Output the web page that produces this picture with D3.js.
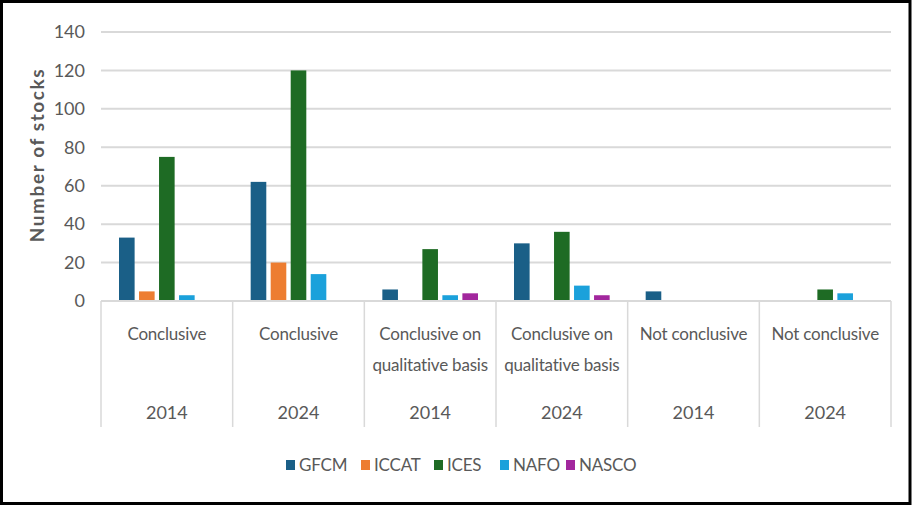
<!DOCTYPE html>
<html>
<head>
<meta charset="utf-8">
<script src="https://cdn.jsdelivr.net/npm/d3@7"></script>
<style>
  body { margin: 0; background: #fff; }
  svg text { font-family: Lato, "Noto Sans", sans-serif; fill: #595959; }
</style>
</head>
<body>
<div id="chart"></div>
<script>
const categories = ["Conclusive", "Conclusive", "Conclusive on qualitative basis", "Conclusive on qualitative basis", "Not conclusive", "Not conclusive"];
const years = ["2014", "2024", "2014", "2024", "2014", "2024"];
const seriesNames = ["GFCM", "ICCAT", "ICES", "NAFO", "NASCO"];
const gfcm  = [33, 62, 6, 30, 5, 0];
const iccat = [5, 20, 0, 0, 0, 0];
const ices  = [75, 120, 27, 36, 0, 6];
const nafo  = [3, 14, 3, 8, 0, 4];
const nasco = [0, 0, 4, 3, 0, 0];
const yTicks = [0, 20, 40, 60, 80, 100, 120, 140];
const seriesColors = ["#1a5f87", "#ed7d31", "#1e6b24", "#1ba1db", "#a2279d"];

const W = 913, H = 507;
const margin = {top: 32, left: 101, right: 22, bottom: 206};
const values = [gfcm, iccat, ices, nafo, nasco];

const data = categories.map((c, i) => ({
  key: i,
  label: c,
  year: years[i],
  vals: seriesNames.map((s, j) => ({series: s, value: values[j][i]}))
}));

const svg = d3.select("#chart").append("svg")
    .attr("width", W)
    .attr("height", H);

// frame
svg.append("rect")
    .attr("x", 1.5).attr("y", 1.5)
    .attr("width", W - 4.5).attr("height", H - 5)
    .style("fill", "#fff")
    .style("stroke", "#000")
    .style("stroke-width", 3);

const x0 = d3.scaleBand()
    .domain(d3.range(categories.length))
    .range([margin.left, W - margin.right])
    .paddingInner(0).paddingOuter(0);

const x1 = d3.scaleBand()
    .domain(seriesNames)
    .range([0, x0.bandwidth()])
    .paddingInner(0.22)
    .paddingOuter(0.9);

const y = d3.scaleLinear()
    .domain([0, 140])
    .range([H - margin.bottom, margin.top]);

// gridlines
svg.append("g")
  .selectAll("line")
  .data(yTicks.filter(d => d > 0))
  .enter().append("line")
    .attr("x1", margin.left).attr("x2", W - margin.right)
    .attr("y1", d => y(d)).attr("y2", d => y(d))
    .style("stroke", "#d9d9d9")
    .style("stroke-width", 2);

// y axis labels
const yAxis = svg.append("g")
    .attr("transform", "translate(" + margin.left + ",0)")
    .call(d3.axisLeft(y).tickValues(yTicks).tickSize(0).tickPadding(16));
yAxis.select(".domain").remove();
yAxis.selectAll("text")
    .style("font-size", "18px")
    .style("font-family", "Lato, sans-serif")
    .style("fill", "#595959");

svg.append("text")
    .attr("transform", "translate(44,155) rotate(-90)")
    .attr("text-anchor", "middle")
    .style("font-size", "19px")
    .style("font-weight", "bold")
    .style("letter-spacing", "1.6px")
    .style("fill", "#595959")
    .text("Number of stocks");

// bars
const groups = svg.append("g").selectAll("g")
  .data(data)
  .enter().append("g")
    .attr("transform", d => "translate(" + x0(d.key) + ",0)");

groups.selectAll("rect")
  .data(d => d.vals)
  .enter().append("rect")
    .attr("x", d => x1(d.series))
    .attr("y", d => y(d.value))
    .attr("width", x1.bandwidth())
    .attr("height", d => y(0) - y(d.value))
    .style("fill", (d, i) => seriesColors[i]);

// category axis
const baseY = y(0);
svg.append("line")
    .attr("x1", margin.left).attr("x2", W - margin.right)
    .attr("y1", baseY).attr("y2", baseY)
    .style("stroke", "#d9d9d9").style("stroke-width", 2);

svg.append("g").selectAll("line")
  .data(d3.range(categories.length + 1))
  .enter().append("line")
    .attr("x1", d => margin.left + d * x0.step())
    .attr("x2", d => margin.left + d * x0.step())
    .attr("y1", baseY).attr("y2", 427)
    .style("stroke", "#d9d9d9").style("stroke-width", 1.5);

svg.append("g").selectAll("text")
  .data(data)
  .enter().append("text")
    .attr("x", d => x0(d.key) + x0.bandwidth() / 2)
    .attr("y", 340)
    .attr("text-anchor", "middle")
    .style("font-size", "17px")
    .style("letter-spacing", "-0.2px")
    .text(d => d.label)
    .call(wrap, 127);

svg.append("g").selectAll("text")
  .data(data)
  .enter().append("text")
    .attr("x", d => x0(d.key) + x0.bandwidth() / 2)
    .attr("y", 419)
    .attr("text-anchor", "middle")
    .style("font-size", "18px")
    .text(d => d.year);

// legend
const legendX = [286, 361, 434, 500, 566];
const legend = svg.append("g").selectAll("g")
  .data(seriesNames)
  .enter().append("g")
    .attr("transform", (d, i) => "translate(" + legendX[i] + ",465)");
legend.append("rect")
    .attr("x", 0).attr("y", -5)
    .attr("width", 9).attr("height", 10)
    .style("fill", (d, i) => seriesColors[i]);
legend.append("text")
    .attr("x", 13).attr("y", 6)
    .style("font-size", "17px")
    .style("letter-spacing", "-0.2px")
    .text(d => d);

function wrap(text, width) {
  text.each(function() {
    let t = d3.select(this),
      words = t.text().split(/\s+/).reverse(),
      word,
      line = [],
      lineNumber = 0,
      lineHeight = 1.8,
      xx = t.attr("x"),
      yy = t.attr("y"),
      tspan = t.text(null).append("tspan").attr("x", xx).attr("y", yy).attr("dy", "0em");
    while (word = words.pop()) {
      line.push(word);
      tspan.text(line.join(" "));
      if (tspan.node().getComputedTextLength() > width && line.length > 1) {
        line.pop();
        tspan.text(line.join(" "));
        line = [word];
        tspan = t.append("tspan").attr("x", xx).attr("y", yy)
          .attr("dy", ++lineNumber * lineHeight + "em").text(word);
      }
    }
  });
}
</script>
</body>
</html>
